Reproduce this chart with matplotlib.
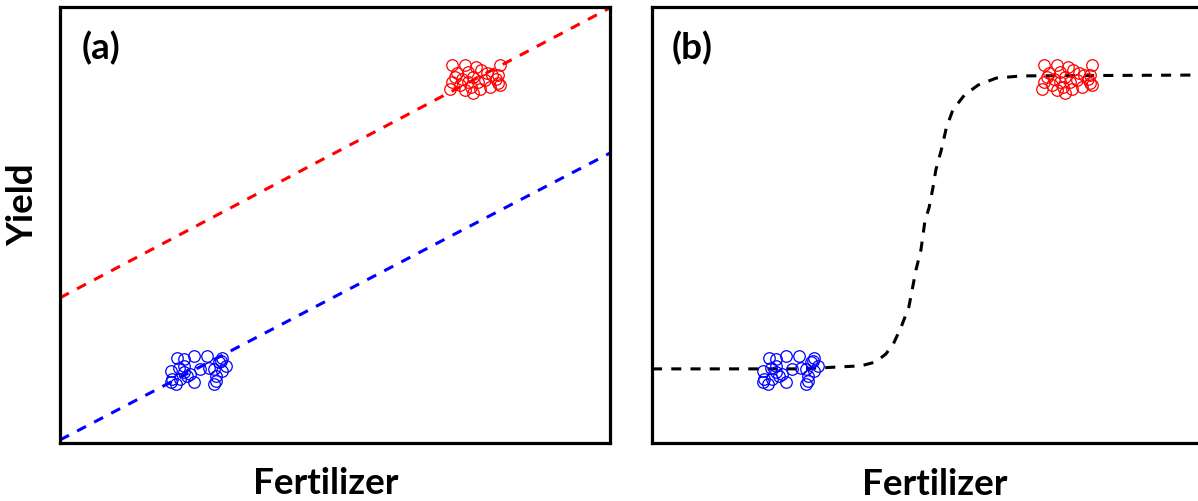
import matplotlib.pyplot as plt

# Cluster points, same clusters used in both panels
low_x = [2.13, 2.25, 2.43, 2.68, 2.95, 2.89, 3.01, 2.01, 2.16, 2.25, 2.37, 2.55, 2.80,
         2.95, 2.83, 2.04, 2.19, 2.31, 2.43, 2.01, 2.80, 2.10, 2.25, 2.83, 2.71, 2.92]
low_y = [1.96, 1.92, 2.00, 2.00, 1.96, 1.85, 1.77, 1.66, 1.73, 1.62, 1.58, 1.69, 1.69,
         1.66, 1.54, 1.46, 1.46, 1.54, 1.39, 1.39, 1.35, 1.35, 1.77, 1.43, 1.73, 1.89]

high_x = [7.12, 7.36, 7.57, 8.00, 7.21, 7.42, 7.66, 7.85, 7.97, 7.12, 7.30, 7.51, 7.72, 7.97,
          7.09, 7.27, 7.48, 7.63, 7.82, 8.00, 7.36, 7.51, 7.18, 7.60, 7.42, 7.76, 7.92]
high_y = [8.67, 8.67, 8.63, 8.67, 8.48, 8.51, 8.55, 8.44, 8.44, 8.28, 8.36, 8.40, 8.32, 8.25,
          8.13, 8.21, 8.17, 8.13, 8.17, 8.21, 8.09, 8.02, 8.40, 8.28, 8.28, 8.48, 8.36]

# Panel (a): two parallel lines
red_line_x = [0, 10]
red_line_y = [3.33, 9.98]
blue_line_x = [0, 10]
blue_line_y = [0.07, 6.65]

# Panel (b): S-shaped curve
curve_x = [0, 2.70, 3.80, 4.07, 4.25, 4.38, 4.53, 4.67, 4.80, 4.89, 4.96, 5.04,
           5.11, 5.16, 5.26, 5.35, 5.47, 5.68, 5.93, 6.26, 6.72, 10]
curve_y = [1.70, 1.70, 1.77, 1.86, 2.04, 2.25, 2.66, 3.12, 3.97, 4.43, 5.07, 5.41,
           5.87, 6.26, 6.72, 7.22, 7.64, 7.98, 8.21, 8.37, 8.42, 8.44]

W, H = 1198, 501
fig = plt.figure(figsize=(W / 100, H / 100), dpi=100)

ax1 = fig.add_axes([60 / W, (H - 443) / H, 550 / W, 436 / H])
ax2 = fig.add_axes([652 / W, (H - 443) / H, 550 / W, 436 / H])

dash = (0, (3.3, 3.0))
mk = dict(linestyle='none', marker='o', markersize=8.3, markerfacecolor='none',
          markeredgewidth=0.9)

ax1.plot(red_line_x, red_line_y, color='#ff0000', lw=2.2, linestyle=dash)
ax1.plot(blue_line_x, blue_line_y, color='#0000ff', lw=2.2, linestyle=dash)
ax1.plot(low_x, low_y, markeredgecolor='#0000ff', **mk)
ax1.plot(high_x, high_y, markeredgecolor='#ff0000', **mk)

ax2.plot(curve_x, curve_y, color='black', lw=2.2, linestyle=dash)
ax2.plot(low_x, low_y, markeredgecolor='#0000ff', **mk)
ax2.plot(high_x, high_y, markeredgecolor='#ff0000', **mk)

for ax in (ax1, ax2):
    ax.set_xlim(0, 10)
    ax.set_ylim(0, 10)
    ax.set_xticks([])
    ax.set_yticks([])
    for s in ax.spines.values():
        s.set_linewidth(2.3)

font = dict(family='Lato', weight='bold', size=26.5)
fig.text(101 / W, 1 - 48 / H, '(a)', ha='center', va='center', **font)
fig.text(692 / W, 1 - 48 / H, '(b)', ha='center', va='center', **font)
fig.text(326 / W, 1 - 494 / H, 'Fertilizer', ha='center', va='baseline', **font)
fig.text(935 / W, 1 - 495 / H, 'Fertilizer', ha='center', va='baseline', **font)
fig.text(23 / W, 1 - 205 / H, 'Yield', ha='center', va='center', rotation=90, **font)

fig.savefig('out.png', dpi=100)
